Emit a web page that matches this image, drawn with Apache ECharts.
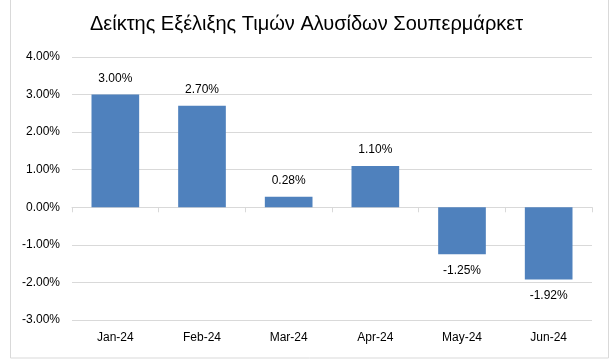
<!DOCTYPE html>
<html>
<head>
<meta charset="utf-8">
<script src="https://cdn.jsdelivr.net/npm/echarts@6/dist/echarts.min.js"></script>
<style>
html,body{margin:0;padding:0;background:#fff;}
#c{width:613px;height:361px;}
</style>
</head>
<body>
<div id="c"></div>
<script>
const titleText = "Δείκτης Εξέλιξης Τιμών Αλυσίδων Σουπερμάρκετ";
const categories = ["Jan-24", "Feb-24", "Mar-24", "Apr-24", "May-24", "Jun-24"];
const values = [3.00, 2.70, 0.28, 1.10, -1.25, -1.92];
const yMin = -3, yMax = 4, yStep = 1;

const chart = echarts.init(document.getElementById('c'));
const font = "'Liberation Sans', Arial, sans-serif";
chart.setOption({
  animation: false,
  backgroundColor: '#fff',
  title: {
    text: titleText,
    left: 'center',
    top: 9,
    textStyle: {fontFamily: font, fontSize: 20, fontWeight: 'normal', color: '#000'}
  },
  graphic: [{
    type: 'rect', silent: true,
    shape: {x: 10.5, y: -2, width: 598, height: 360},
    style: {fill: 'none', stroke: '#d9d9d9', lineWidth: 1}
  }],
  grid: {left: 72, right: 21, top: 57, bottom: 41, containLabel: false},
  xAxis: [{
    type: 'category',
    data: categories,
    axisLine: {onZero: true, lineStyle: {color: '#d9d9d9', width: 1}},
    axisTick: {show: true, length: 5, lineStyle: {color: '#d9d9d9'}},
    axisLabel: {show: false}
  }, {
    type: 'category',
    data: categories,
    position: 'bottom',
    axisLine: {show: false},
    axisTick: {show: false},
    axisLabel: {fontFamily: font, fontSize: 12, color: '#000', margin: 12}
  }],
  yAxis: {
    type: 'value',
    min: yMin, max: yMax, interval: yStep,
    axisLine: {show: false},
    axisTick: {show: false},
    splitLine: {lineStyle: {color: '#d9d9d9', width: 1}},
    axisLabel: {
      fontFamily: font, fontSize: 12, color: '#000', margin: 12,
      formatter: v => v.toFixed(2) + '%'
    }
  },
  series: [{
    type: 'bar',
    xAxisIndex: 0,
    data: values.map(v => ({
      value: v,
      label: {position: v >= 0 ? 'top' : 'bottom'}
    })),
    barWidth: '55%',
    itemStyle: {color: '#4F81BD'},
    label: {
      show: true, distance: 10,
      fontFamily: font, fontSize: 12, color: '#000',
      formatter: p => p.value.toFixed(2) + '%'
    }
  }]
});
</script>
</body>
</html>
